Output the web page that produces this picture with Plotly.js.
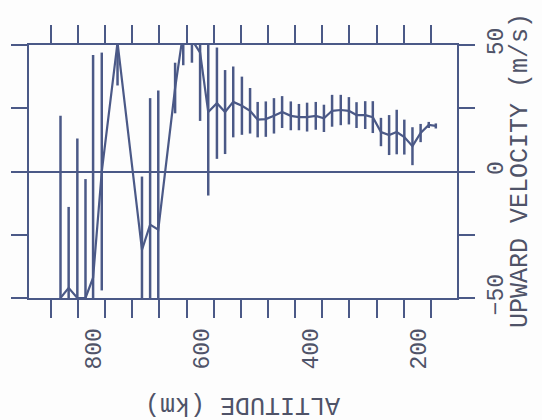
<!DOCTYPE html>
<html>
<head>
<meta charset="utf-8">
<script src="https://cdn.plot.ly/plotly-3.0.1.min.js"></script>
<style>html,body{margin:0;padding:0;background:#fdfdfd;}#chart{width:542px;height:420px;}</style>
</head>
<body>
<div id="chart"></div>
<script>
// Altitude (km) of each measurement
var altitude = [882, 867, 851, 836, 822, 806, 777, 732, 717, 702, 671, 656, 640, 625, 610,
  594, 579, 564, 548, 533, 519, 504, 489, 474, 458, 443, 428, 412, 397, 382, 366, 351,
  337, 321, 307, 292, 277, 263, 249, 234, 219, 204, 191];
// Upward velocity (m/s)
var velocity = [-50, -46, -50, -50, -42, 0, 51, -31, -21, -23, 33, 55, 52, 47, 23.5,
  27, 23.5, 27.5, 26, 24, 20.5, 20.7, 22, 23.5, 22, 21.5, 21.5, 22, 21, 24, 24.3, 24,
  22.3, 22.3, 21.5, 15.6, 14.4, 15.6, 13.6, 10, 15.2, 18.4, 18];
// Error (m/s)
var velErr = [72, 32, 63, 47, 88, 47, 17, 29, 50, 55, 10, 13, 9, 27, 33,
  22, 16.6, 14, 11.5, 9, 7, 7, 7, 6.3, 5.7, 5.2, 5.7, 5.5, 5.4, 6.3, 6, 5.4,
  5.1, 5.5, 6.3, 5.6, 7.9, 8.8, 6.9, 7.5, 3.6, 1.2, 1];

var xTickVals = [900, 850, 800, 750, 700, 650, 600, 550, 500, 450, 400, 350, 300, 250, 200, 150];
var xTickText = ['', '', '800', '', '', '', '600', '', '', '', '400', '', '', '', '200', ''];
var yTickVals = [-50, -25, 0, 25, 50];
var yTickText = ['\u221250', '', '0', '', '50'];

var ink = '#4b5987';
var txt = '#4f5368';
var fontFam = '"Liberation Mono", "DejaVu Sans Mono", monospace';

var trace = {
  x: altitude, y: velocity, type: 'scatter', mode: 'lines',
  line: {color: ink, width: 2.2},
  error_y: {type: 'data', array: velErr, visible: true, thickness: 2.5, width: 0, color: ink},
  hoverinfo: 'none', showlegend: false
};

var layout = {
  width: 542, height: 420,
  margin: {l: 29, r: 85, t: 45, b: 122},
  paper_bgcolor: '#fdfdfd', plot_bgcolor: '#fdfdfd',
  font: {family: fontFam, color: txt, size: 23},
  xaxis: {
    range: [940, 152], showgrid: false, zeroline: false,
    showline: true, linecolor: ink, linewidth: 2, mirror: 'ticks',
    ticks: 'outside', ticklen: 18, tickwidth: 2, tickcolor: ink,
    tickmode: 'array', tickvals: xTickVals, ticktext: xTickText,
    tickangle: -90, ticklabelshift: 12, ticklabelstandoff: 1,
    tickfont: {family: fontFam, size: 23, color: txt}
  },
  yaxis: {
    range: [-50, 50], side: 'right', showgrid: false,
    zeroline: true, zerolinecolor: ink, zerolinewidth: 2,
    showline: true, linecolor: ink, linewidth: 2, mirror: 'ticks',
    ticks: 'outside', ticklen: 16, tickwidth: 2, tickcolor: ink,
    tickmode: 'array', tickvals: yTickVals, ticktext: yTickText,
    tickangle: -90, tickfont: {family: fontFam, size: 23, color: txt}
  },
  annotations: [
    {text: 'ALTITUDE (km)', xref: 'paper', yref: 'paper', x: 0.5, y: -0.423,
     xanchor: 'center', yanchor: 'middle', textangle: 180, showarrow: false,
     font: {family: fontFam, size: 25, color: txt}},
    {text: 'UPWARD VELOCITY (m/s)', xref: 'paper', yref: 'paper', x: 1.1495, y: 0.506,
     xanchor: 'center', yanchor: 'middle', textangle: -90, showarrow: false,
     font: {family: fontFam, size: 25, color: txt}}
  ]
};

Plotly.newPlot('chart', [trace], layout, {displayModeBar: false, staticPlot: true});
</script>
</body>
</html>
